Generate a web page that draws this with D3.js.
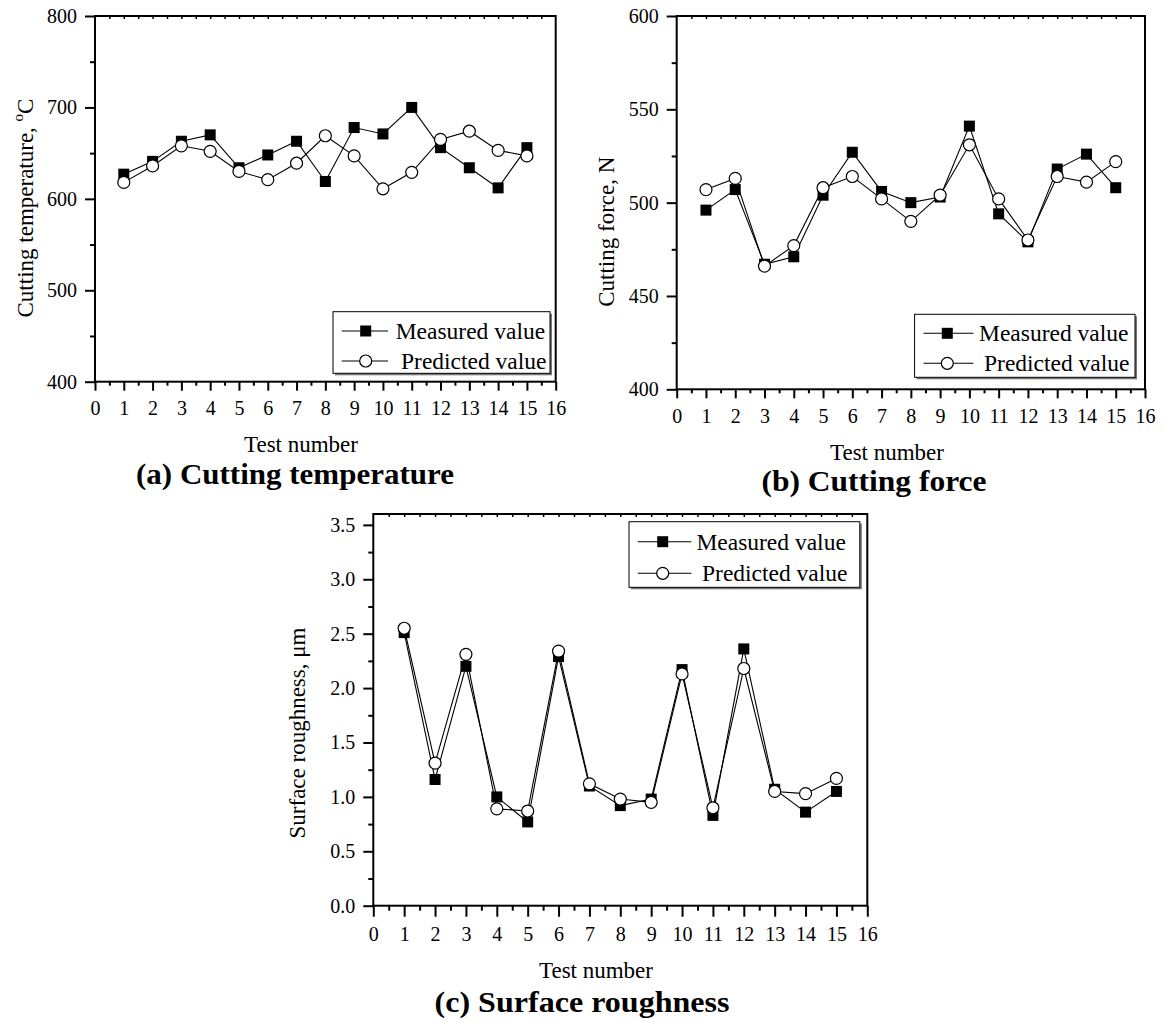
<!DOCTYPE html>
<html><head><meta charset="utf-8">
<script src="https://cdn.jsdelivr.net/npm/d3@7"></script>
<style>
body{margin:0;background:#fff}
svg{display:block}
text{font-family:"Liberation Serif","Times New Roman",serif;fill:#000}
</style>
</head><body>
<svg id="chart" width="1163" height="1023"></svg>
<script>
// ---------------- DATA ----------------
const testNumbers = [1,2,3,4,5,6,7,8,9,10,11,12,13,14,15];
const tempMeasured  = [627,641,663,670,634,648,663,619,678,671,700,656,634,612,656];
const tempPredicted = [618,636,658,652,630,621,639,669,647,611,629,665,674,653,647];
const forceMeasured  = [496,507,467,471,504,527,506,500,503,541,494,479,518,526,508];
const forcePredicted = [507,513,466,477,508,514,502,490,504,531,502,480,514,511,522];
const roughMeasured  = [2.51,1.16,2.20,1.00,0.77,2.29,1.10,0.92,0.98,2.17,0.83,2.36,1.07,0.86,1.05];
const roughPredicted = [2.55,1.31,2.31,0.89,0.87,2.34,1.12,0.98,0.95,2.13,0.90,2.18,1.05,1.03,1.17];
const xTickLabels = [0,1,2,3,4,5,6,7,8,9,10,11,12,13,14,15,16];
const tempTicks  = [400,500,600,700,800];
const forceTicks = [400,450,500,550,600];
const roughTicks = [0.0,0.5,1.0,1.5,2.0,2.5,3.0,3.5];
const seriesNames = ["Measured value","Predicted value"];
const xTitle = "Test number";
const captions = ["(a) Cutting temperature","(b) Cutting force","(c) Surface roughness"];

// ---------------- LAYOUT ----------------
const svg = d3.select("#chart");

const panels = [
  {m: tempMeasured, p: tempPredicted, yTicks: tempTicks, yDom:[400,800], yMinorStep:50, fmt: d3.format("d"),
   box:{x0:95, x1:555.7, y0:16, y1:381.7}, major:9, minor:4,
   yTitle:{x:33, y:208, parts:["Cutting temperature, ","o","C"]},
   xTitleY:452, xTitleX:301, tickBase:33.5,
   cap:{x:295, y:484, w:318},
   leg:{x:333, y:311.7, w:217, h:61.6, r1:19.3, r2:49.3, l0:8.7, l1:55, mk:32.7, t1:62.7, t2:68}},
  {m: forceMeasured, p: forcePredicted, yTicks: forceTicks, yDom:[400,600], yMinorStep:25, fmt: d3.format("d"),
   box:{x0:676.7, x1:1145, y0:16, y1:389.3}, major:9, minor:4,
   yTitle:{x:614, y:231.7, parts:["Cutting force, N"]},
   xTitleY:460, xTitleX:887, tickBase:33.7,
   cap:{x:874, y:491, w:225},
   leg:{x:914.6, y:314.3, w:220.4, h:63, r1:19, r2:49, l0:8.9, l1:58.9, mk:32.7, t1:64.4, t2:69.4}},
  {m: roughMeasured, p: roughPredicted, yTicks: roughTicks, yDom:[0,3.6], yMinorStep:0.25, fmt: d3.format(".1f"),
   box:{x0:373.3, x1:867.3, y0:514, y1:905.7}, major:11, minor:5,
   yTitle:{x:305, y:733, parts:["Surface roughness, μm"]},
   xTitleY:978, xTitleX:596, tickBase:35,
   cap:{x:582, y:1012, w:295},
   leg:{x:629, y:521.7, w:230.8, h:65.6, r1:20, r2:51.6, l0:8.8, l1:62.4, mk:33.7, t1:67.4, t2:73}}
];

function drawMarker(g, type, cx, cy) {
  if (type === 0) {
    g.append("rect").attr("x", cx-5.5).attr("y", cy-5.5).attr("width", 11).attr("height", 11)
      .attr("fill", "#000");
  } else {
    g.append("circle").attr("cx", cx).attr("cy", cy).attr("r", 6)
      .attr("fill", "#fff").attr("stroke", "#000").attr("stroke-width", 1.2);
  }
}

panels.forEach((P, pi) => {
  const b = P.box;
  const x = d3.scaleLinear().domain([0,16]).range([b.x0, b.x1]);
  const y = d3.scaleLinear().domain(P.yDom).range([b.y1, b.y0]);
  const g = svg.append("g");

  // minor ticks (x)
  const xMinor = d3.range(0.5, 16, 1);
  g.append("g").attr("transform", `translate(0,${b.y1})`)
    .call(d3.axisBottom(x).tickValues(xMinor).tickSize(P.minor).tickSizeOuter(0).tickFormat(""))
    .call(s => { s.select(".domain").remove(); s.selectAll("line").attr("stroke-width", 2); });
  // major ticks (x)
  const xa = g.append("g").attr("transform", `translate(0,${b.y1})`)
    .call(d3.axisBottom(x).tickValues(xTickLabels).tickSize(P.major).tickSizeOuter(0).tickPadding(0));
  xa.select(".domain").remove();
  xa.selectAll("line").attr("stroke-width", 2);
  xa.selectAll("text").attr("font-size", 20).attr("font-family", "Liberation Serif")
    .attr("dy", null).attr("y", P.tickBase);

  // top ticks (inward)
  g.append("g").attr("transform", `translate(0,${b.y0})`)
    .call(d3.axisBottom(x).tickValues(d3.range(0.5, 16, 0.5)).tickSize(3).tickSizeOuter(0).tickFormat(""))
    .call(s => { s.select(".domain").remove(); s.selectAll("line").attr("stroke-width", 1.5); });

  // y minor ticks
  const yMinor = d3.range(P.yDom[0] + P.yMinorStep, P.yDom[1] + 1e-9, P.yMinorStep * 2)
    .filter(v => v < P.yDom[1] - 1e-9);
  g.append("g").attr("transform", `translate(${b.x0},0)`)
    .call(d3.axisLeft(y).tickValues(yMinor).tickSize(5).tickSizeOuter(0).tickFormat(""))
    .call(s => { s.select(".domain").remove(); s.selectAll("line").attr("stroke-width", 2); });
  // y major ticks
  const ya = g.append("g").attr("transform", `translate(${b.x0},0)`)
    .call(d3.axisLeft(y).tickValues(P.yTicks).tickSize(10).tickSizeOuter(0).tickPadding(8).tickFormat(P.fmt));
  ya.select(".domain").remove();
  ya.selectAll("line").attr("stroke-width", 2);
  ya.selectAll("text").attr("font-size", 20).attr("font-family", "Liberation Serif");

  // frame
  g.append("rect").attr("x", b.x0).attr("y", b.y0).attr("width", b.x1 - b.x0).attr("height", b.y1 - b.y0)
    .attr("fill", "none").attr("stroke", "#000").attr("stroke-width", 2);

  // series
  const line = d3.line().x((d,i) => x(testNumbers[i])).y(d => y(d));
  [P.m, P.p].forEach((vals, si) => {
    const sg = g.append("g");
    sg.append("path").datum(vals).attr("d", line).attr("fill", "none")
      .attr("stroke", "#000").attr("stroke-width", 1.1);
    vals.forEach((v, i) => drawMarker(sg, si, x(testNumbers[i]), y(v)));
  });

  // legend
  const L = P.leg;
  const lg = g.append("g");
  lg.append("rect").attr("x", L.x + 2).attr("y", L.y + 2).attr("width", L.w).attr("height", L.h).attr("fill", "#777");
  lg.append("rect").attr("x", L.x).attr("y", L.y).attr("width", L.w).attr("height", L.h)
    .attr("fill", "#fff").attr("stroke", "#000").attr("stroke-width", 1);
  [L.r1, L.r2].forEach((ry, si) => {
    const yy = L.y + ry;
    lg.append("line").attr("x1", L.x + L.l0).attr("x2", L.x + L.l1).attr("y1", yy).attr("y2", yy)
      .attr("stroke", "#000").attr("stroke-width", 1.1);
    drawMarker(lg, si, L.x + L.mk, yy);
    lg.append("text").attr("x", L.x + (si === 0 ? L.t1 : L.t2)).attr("y", yy).attr("dy", "0.34em")
      .attr("font-size", 23.5).text(seriesNames[si]);
  });

  // y title
  const yt = g.append("text").attr("transform", `translate(${P.yTitle.x},${P.yTitle.y}) rotate(-90)`)
    .attr("text-anchor", "middle").attr("font-size", 23);
  if (P.yTitle.parts.length === 3) {
    yt.append("tspan").text(P.yTitle.parts[0]);
    yt.append("tspan").attr("font-size", 15).attr("dy", -10).text(P.yTitle.parts[1]);
    yt.append("tspan").attr("dy", 10).text(P.yTitle.parts[2]);
  } else {
    yt.text(P.yTitle.parts[0]);
  }

  // x title
  g.append("text").attr("x", P.xTitleX).attr("y", P.xTitleY).attr("text-anchor", "middle")
    .attr("font-size", 23).text(xTitle);

  // caption
  g.append("text").attr("x", P.cap.x).attr("y", P.cap.y).attr("text-anchor", "middle")
    .attr("font-size", 30).attr("font-weight", "bold")
    .attr("textLength", P.cap.w).attr("lengthAdjust", "spacingAndGlyphs")
    .text(captions[pi]);
});
</script>
</body></html>
